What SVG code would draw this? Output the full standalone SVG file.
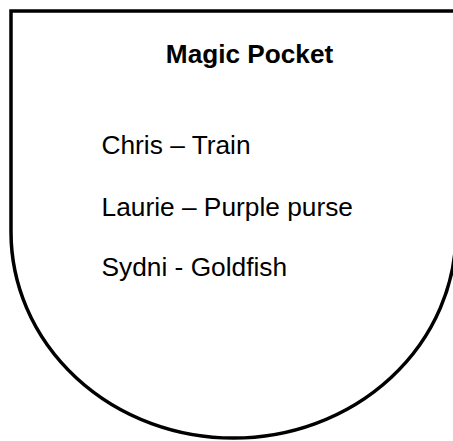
<svg xmlns="http://www.w3.org/2000/svg" width="453" height="441" viewBox="0 0 453 441">
<style>
.shape{fill:#fff;stroke:#000;stroke-width:3.5}
.t{font-family:"Liberation Sans",Arial,sans-serif;font-size:26.3px;fill:#000}
.b{font-weight:bold;text-anchor:middle;font-size:26.2px}
</style>
<rect width="453" height="441" fill="#fff"/>
<g id="pocket">
<path class="shape" d="M11,11 H456 V232 A222.5,206 0 0 1 11,232 Z"/>
</g>
<g id="labels">
<text class="t b" x="249.5" y="63">Magic Pocket</text>
<text class="t" x="101.5" y="154">Chris – Train</text>
<text class="t" x="101.5" y="215.5">Laurie – Purple purse</text>
<text class="t" x="101.5" y="276">Sydni - Goldfish</text>
</g>
</svg>
